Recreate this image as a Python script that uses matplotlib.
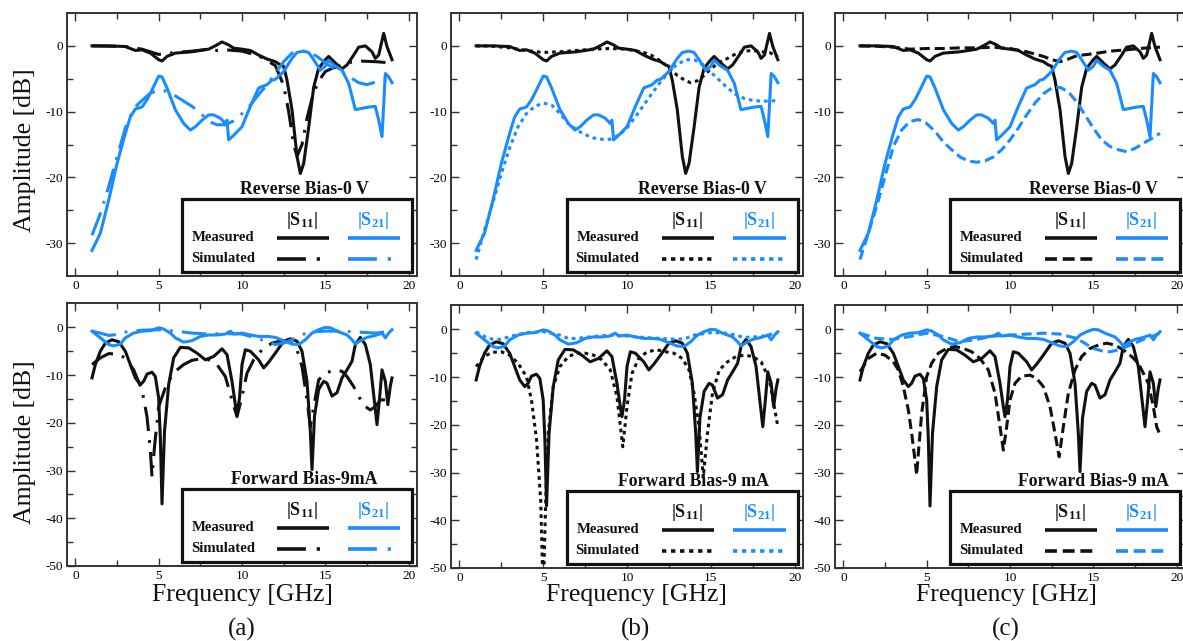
import matplotlib
matplotlib.use("Agg")
import matplotlib.pyplot as plt
from matplotlib.patches import Rectangle

plt.rcParams['font.family'] = 'Liberation Serif'
plt.rcParams['axes.unicode_minus'] = False
plt.rcParams['mathtext.fontset'] = 'custom'
plt.rcParams['mathtext.rm'] = 'Liberation Serif'
plt.rcParams['mathtext.bf'] = 'Liberation Serif:bold'

BLACK = '#111111'
BLUE = '#1a8cff'

# ---------------- reverse bias 0 V, measured (same in a, b, c)
rev_s11_f = [1, 2, 3, 3.6, 4, 4.5, 5, 5.2, 5.5, 6, 7, 8, 8.5, 8.8, 9.2, 9.5, 10, 10.5,
             11, 11.5, 12, 12.3, 12.5, 12.7, 13.0, 13.3, 13.5, 13.7, 14.0, 14.3, 14.6,
             15, 15.2, 15.6, 16, 16.3, 16.7, 17, 17.4, 17.8, 18, 18.2, 18.5, 18.7, 19]
rev_s11_meas = [0, 0, -0.1, -0.7, -0.6, -1.1, -2.1, -2.3, -1.6, -1.1, -0.9, -0.5, 0.15, 0.6,
                0.15, -0.35, -0.5, -0.7, -1.4, -2.0, -2.4, -2.9, -3.1, -5.2, -9.7, -16.8,
                -19.4, -17.9, -12.4, -6.3, -3.4, -2.1, -1.6, -2.6, -3.5, -2.9, -1.4, -0.2,
                0.0, -0.9, -1.9, -1.4, 1.9, -0.1, -2.1]

rev_s21_f = [1, 1.5, 2, 2.5, 3, 3.3, 3.6, 4, 4.3, 4.6, 5, 5.2, 5.5, 6, 6.5, 6.9, 7.2, 7.6,
             8, 8.3, 8.7, 9, 9.1, 9.2, 9.5, 10, 10.5, 11, 11.5, 11.8, 12, 12.5, 13, 13.3,
             13.7, 14, 14.3, 14.7, 15, 15.2, 15.6, 16, 16.4, 16.8, 17.2, 17.6, 18, 18.2,
             18.4, 18.6, 18.8, 19]
rev_s21_meas = [-31.1, -28.5, -23.5, -17.9, -13.3, -10.8, -9.6, -9.3, -8.2, -6.7, -4.6, -4.7,
                -6.4, -9.7, -11.8, -12.8, -12.3, -11.3, -10.5, -10.5, -11.0, -11.8, -11.3,
                -14.3, -13.6, -12.3, -9.2, -6.4, -5.9, -5.2, -5.1, -3.9, -1.9, -1.0, -0.8,
                -1.0, -2.1, -3.7, -3.1, -2.2, -3.1, -3.7, -5.7, -9.7, -9.5, -9.3, -9.2,
                -11.3, -13.8, -4.2, -4.7, -5.6]

# ---------------- reverse bias 0 V, simulated
rev_sim_s11_f_a = [1, 3, 4, 5, 6, 7, 8, 8.5, 9, 10, 11, 12, 12.5, 12.8, 13.1, 13.3, 13.6,
                   13.9, 14.3, 14.7, 15, 15.5, 16, 16.5, 17, 18, 19]
rev_sim_s11_a = [0, -0.1, -0.5, -1.3, -1.0, -0.8, -0.5, -0.7, -0.6, -0.8, -1.5, -3.0, -6.0,
                 -10.0, -15.0, -16.8, -15.0, -11.0, -7.0, -5.0, -3.9, -3.3, -3.0, -2.5,
                 -2.3, -2.4, -2.6]
rev_sim_s21_f_a = [1, 1.5, 2, 2.5, 3, 3.5, 4, 4.5, 5, 5.5, 6, 7, 7.5, 8, 8.5, 9, 9.5, 10,
                   10.5, 11, 11.5, 12, 12.5, 13, 13.5, 14, 14.5, 15, 15.5, 16, 16.5, 17,
                   17.5, 18, 18.5, 19]
rev_sim_s21_a = [-28.8, -25.5, -21.4, -16.9, -12.5, -9.5, -8.3, -7.2, -6.7, -6.9, -7.6, -9.2,
                 -10.2, -11.5, -12.0, -12.0, -11.4, -10.3, -9.0, -7.4, -5.9, -4.2, -2.4,
                 -1.1, -0.8, -0.9, -1.6, -2.6, -3.4, -3.9, -4.8, -5.6, -5.9, -5.5, -5.2, -5.3]

rev_sim_s11_f_b = [1, 2, 3, 4, 5, 6, 7, 8, 9, 10, 11, 11.5, 12, 12.5, 13, 13.5, 13.8, 14.2,
                   14.6, 15, 15.5, 16, 16.5, 17, 17.5, 18, 18.5, 19]
rev_sim_s11_b = [0, -0.05, -0.3, -0.7, -1.0, -0.9, -0.7, -0.5, -0.4, -0.5, -1.0, -1.5, -2.3,
                 -3.3, -4.5, -5.3, -5.6, -5.3, -4.5, -3.5, -2.5, -1.9, -1.2, -0.8, -0.7,
                 -0.9, -1.0, -1.7]
rev_sim_s21_f_b = [1, 1.5, 2, 2.5, 3, 3.5, 4, 4.5, 5, 5.5, 6, 6.5, 7, 7.5, 8, 8.5, 9, 9.5, 10,
                   10.5, 11, 11.5, 12, 12.5, 13, 13.5, 14, 14.5, 15, 15.5, 16, 16.5, 17,
                   17.5, 18, 18.5, 19]
rev_sim_s21_b = [-32.5, -28.0, -23.8, -19.5, -15.5, -12.3, -10.3, -9.2, -8.7, -9.0, -10.3,
                 -11.8, -12.8, -13.5, -14.0, -14.2, -14.2, -13.6, -12.5, -10.8, -9.0, -7.2,
                 -5.5, -3.9, -2.8, -2.1, -2.1, -2.8, -4.0, -5.2, -6.4, -7.4, -8.0, -8.3,
                 -8.4, -8.4, -8.3]

rev_sim_s11_f_c = [1, 2, 3, 4, 5, 6, 7, 8, 9, 10, 11, 12, 12.5, 13, 13.5, 14, 15, 16, 17,
                   18, 19]
rev_sim_s11_c = [0, -0.05, -0.2, -0.5, -0.4, -0.4, -0.3, -0.3, -0.2, -0.4, -0.9, -1.6, -2.1,
                 -2.4, -2.0, -1.5, -1.2, -0.8, -0.6, -0.35, -0.2]
rev_sim_s21_f_c = [1, 1.5, 2, 2.5, 3, 3.5, 4, 4.5, 5, 5.5, 6, 6.5, 7, 7.5, 8, 8.5, 9, 9.5, 10,
                   10.5, 11, 11.5, 12, 12.5, 13, 13.5, 14, 14.5, 15, 15.5, 16, 16.5, 17,
                   17.5, 18, 18.5, 19]
rev_sim_s21_c = [-32.5, -28.5, -24.4, -19.9, -15.3, -12.8, -11.5, -11.2, -11.8, -13.0, -14.6,
                 -15.8, -16.9, -17.5, -17.7, -17.5, -16.9, -15.8, -14.3, -12.5, -10.5, -8.7,
                 -7.3, -6.4, -6.3, -7.0, -8.5, -10.5, -12.5, -14.3, -15.3, -15.8, -16.1,
                 -15.6, -14.8, -14.1, -13.3]

# ---------------- forward bias 9 mA, measured (same in a, b, c)
fwd_s11_f = [1, 1.2, 1.5, 1.8, 2.2, 2.6, 3, 3.3, 3.6, 3.9, 4.1, 4.3, 4.6, 4.8, 5.0, 5.1,
             5.2, 5.35, 5.6, 5.9, 6.3, 6.8, 7.3, 7.8, 8.3, 8.8, 9.1, 9.4, 9.6, 9.7, 9.85,
             10, 10.2, 10.5, 11, 11.3, 11.6, 12, 12.5, 12.9, 13.3, 13.6, 13.9, 14.1, 14.2,
             14.35, 14.6, 14.9, 15.1, 15.4, 15.7, 16, 16.3, 16.6, 16.8, 17.1, 17.4, 17.7,
             17.9, 18.1, 18.25, 18.4, 18.6, 18.75, 18.9, 19]
fwd_s11_meas = [-10.6, -7.8, -5.0, -3.3, -2.6, -3.0, -5.0, -7.8, -10.6, -12.0, -11.3, -9.8,
                -9.4, -10.3, -14.8, -23.0, -37.0, -21.8, -12.0, -6.4, -4.2, -4.3, -5.4,
                -6.8, -6.1, -4.5, -5.7, -11.3, -16.2, -18.3, -14.8, -7.8, -4.7, -5.0, -6.8,
                -8.5, -7.3, -5.4, -2.9, -2.4, -2.9, -5.0, -11.3, -21.8, -29.8, -18.6, -13.0,
                -11.3, -11.7, -14.4, -13.7, -10.6, -8.9, -7.1, -3.6, -2.1, -3.6, -7.8, -14.1,
                -20.4, -15.0, -8.9, -11.3, -16.2, -12.3, -10.6]

fwd_s21_f = [1, 1.5, 2, 2.3, 2.7, 3, 3.5, 4, 4.5, 5, 5.3, 5.7, 6, 6.5, 7, 7.5, 8, 8.5, 9,
             9.3, 9.5, 10, 10.5, 11, 11.5, 12, 12.5, 13, 13.4, 13.8, 14.2, 14.6, 15, 15.3,
             15.7, 16, 16.3, 16.6, 16.8, 17.1, 17.5, 18, 18.4, 18.6, 18.8, 19]
fwd_s21_meas = [-0.8, -2.2, -3.6, -3.9, -3.5, -2.2, -1.2, -0.8, -0.7, -0.1, -0.35, -1.2,
                -2.2, -3.1, -2.8, -1.9, -1.6, -1.6, -1.4, -0.8, -1.4, -1.2, -1.6, -1.9,
                -1.9, -2.1, -2.8, -3.5, -3.6, -2.6, -1.2, -0.5, 0.0, -0.1, -0.8, -1.2,
                -1.6, -2.6, -3.5, -2.8, -2.1, -1.7, -1.2, -2.2, -1.2, -0.5]

# ---------------- forward bias 9 mA, simulated
fwd_sim_s11_f_a = [1, 1.5, 2, 2.5, 3, 3.5, 4, 4.3, 4.5, 4.6, 4.75, 5, 5.5, 6, 6.5, 7, 7.5, 8,
                   8.5, 9, 9.4, 9.7, 10, 10.3, 10.7, 11.2, 11.8, 12.4, 12.9, 13.3, 13.6,
                   13.9, 14.1, 14.3, 14.6, 15, 15.5, 16, 16.3, 16.7, 17, 17.4, 17.7, 18,
                   18.3, 18.7, 19]
fwd_sim_s11_a = [-7.8, -6.4, -5.5, -5.6, -6.4, -8.9, -13.1, -18.7, -25.7, -31.3, -25.0,
                 -16.6, -11.7, -9.2, -7.8, -6.9, -6.6, -6.8, -7.8, -10.3, -15.2, -18.7,
                 -14.5, -9.6, -6.8, -4.7, -3.3, -2.8, -3.1, -4.7, -8.2, -15.2, -20.8, -16.6,
                 -11.0, -9.6, -9.0, -9.2, -10.3, -12.4, -14.5, -16.6, -17.3, -16.6, -15.2,
                 -15.2, -15.5]
fwd_sim_s21_f_a = [1, 1.5, 2, 2.5, 3, 4, 5, 6, 7, 8, 9, 10, 11, 12, 12.5, 13, 13.5, 14, 15,
                   16, 17, 18, 19]
fwd_sim_s21_a = [-0.8, -1.2, -1.7, -1.5, -1.0, -0.6, -0.5, -0.8, -1.2, -1.4, -1.3, -1.4,
                 -2.4, -3.6, -3.3, -2.6, -1.7, -1.0, -0.8, -0.8, -1.0, -1.2, -0.8]

fwd_sim_s11_f_b = [1, 1.5, 2, 2.5, 3, 3.5, 4, 4.3, 4.6, 4.85, 5.0, 5.15, 5.3, 5.6, 6, 6.5,
                   7, 7.5, 8, 8.5, 9, 9.4, 9.75, 10, 10.3, 10.7, 11.2, 11.8, 12.3, 12.8,
                   13.3, 13.7, 14, 14.3, 14.55, 14.8, 15.1, 15.5, 16, 16.5, 17, 17.5, 18,
                   18.5, 19]
fwd_sim_s11_b = [-7.8, -5.6, -4.8, -4.7, -5.4, -7.1, -9.9, -14.8, -23.0, -35.7, -56.0,
                 -36.0, -21.8, -12.0, -7.8, -5.7, -5.0, -5.0, -5.4, -6.4, -8.5, -14.1,
                 -24.6, -16.2, -9.2, -6.1, -4.7, -4.3, -4.7, -5.0, -6.1, -8.5, -13.4,
                 -20.4, -31.0, -21.8, -13.4, -8.5, -6.8, -5.7, -5.4, -5.7, -6.8, -10.6,
                 -20.4]
fwd_sim_s21_f_b = [1, 1.5, 2, 2.5, 3, 4, 5, 6, 6.5, 7, 8, 9, 10, 11, 12, 13, 13.5, 14, 15,
                   16, 17, 18, 19]
fwd_sim_s21_b = [-0.5, -1.5, -2.1, -2.1, -1.5, -0.7, -0.5, -1.2, -1.9, -1.9, -1.5, -1.2,
                 -1.4, -1.7, -1.9, -2.1, -1.9, -1.2, -0.7, -0.8, -1.7, -1.5, -0.7]

fwd_sim_s11_f_c = [1, 1.5, 2, 2.5, 3, 3.3, 3.6, 3.9, 4.1, 4.3, 4.4, 4.5, 4.7, 5, 5.3, 5.7,
                   6.2, 6.7, 7.2, 7.7, 8.2, 8.7, 9.1, 9.4, 9.6, 9.8, 10, 10.3, 10.7, 11.2,
                   11.6, 12, 12.4, 12.7, 12.95, 13.2, 13.5, 13.9, 14.3, 14.8, 15.3, 15.8,
                   16.3, 16.8, 17.3, 17.7, 18, 18.3, 18.6, 18.8, 19]
fwd_sim_s11_c = [-8.9, -6.1, -5.0, -5.4, -6.8, -8.5, -12.0, -16.9, -21.8, -27.4, -30.5,
                 -26.0, -17.6, -9.9, -7.1, -5.0, -4.0, -3.6, -4.0, -4.7, -6.1, -8.5, -13.4,
                 -20.4, -25.3, -20.4, -14.8, -11.3, -9.8, -9.6, -10.3, -12.0, -16.2, -21.8,
                 -26.7, -20.4, -13.4, -8.5, -5.7, -4.0, -3.3, -2.9, -3.3, -4.3, -5.7, -7.1,
                 -9.2, -11.3, -16.2, -20.4, -22.1]
fwd_sim_s21_f_c = [1, 2, 3, 4, 5, 6, 7, 8, 9, 10, 11, 12, 13, 14, 15, 15.5, 16, 16.5, 17,
                   17.5, 18, 18.5, 19]
fwd_sim_s21_c = [-0.8, -1.9, -2.1, -1.5, -0.8, -1.5, -2.6, -2.1, -1.4, -1.2, -1.0, -0.8,
                 -1.0, -1.9, -4.0, -4.5, -4.7, -4.3, -3.6, -2.9, -2.1, -1.5, -0.8]

col_labels = ['(a)', '(b)', '(c)']
rev_titles = ['Reverse Bias-0 V', 'Reverse Bias-0 V', 'Reverse Bias-0 V']
fwd_titles = ['Forward Bias-9mA', 'Forward Bias-9 mA', 'Forward Bias-9 mA']

# simulated line styles per column: dash-dot, dotted, dashed
sim_styles = [(0, (8, 3, 0.9, 3)), (0, (1.2, 1.3)), (0, (3.3, 1.6))]

W, H = 1183, 641
fig = plt.figure(figsize=(W / 100, H / 100), dpi=100)


def px_axes(x0, x1, ytop, ybot):
    return fig.add_axes([x0 / W, 1 - ybot / H, (x1 - x0) / W, (ybot - ytop) / H])


def style_axes(ax, ylim, yticks):
    ax.set_xlim(-0.5, 20.5)
    ax.set_ylim(*ylim)
    ax.set_xticks([0, 5, 10, 15, 20])
    ax.set_xticks([2.5, 7.5, 12.5, 17.5], minor=True)
    ax.set_yticks(yticks)
    ax.set_yticks([v + 5 for v in yticks[:-1]], minor=True)
    ax.tick_params(which='both', direction='in', top=True, right=True,
                   labelsize=9.5, width=1.0, color='#333333', pad=3)
    ax.tick_params(which='major', length=6)
    ax.tick_params(which='minor', length=4)
    for sp in ax.spines.values():
        sp.set_linewidth(1.4)
        sp.set_color('#333333')


def draw_key(ax, title, title_x, ls):
    tr = ax.transAxes
    ax.add_patch(Rectangle((0.329, 0.016), 0.656, 0.276, transform=tr, fc='white',
                           ec=BLACK, lw=2.3, zorder=5))
    ax.text(title_x, 0.327, title, transform=tr, ha='center', va='center',
            fontsize=12.8, fontweight='bold', color=BLACK, zorder=6)
    ax.text(0.670, 0.212, r'$\mathbf{|S_{11}|}$', transform=tr, ha='center',
            va='center', fontsize=13, color=BLACK, zorder=6)
    ax.text(0.874, 0.212, r'$\mathbf{|S_{21}|}$', transform=tr, ha='center',
            va='center', fontsize=13, color=BLUE, zorder=6)
    ax.text(0.445, 0.145, 'Measured', transform=tr, ha='center', va='center',
            fontsize=10.6, fontweight='bold', color=BLACK, zorder=6)
    ax.text(0.445, 0.066, 'Simulated', transform=tr, ha='center', va='center',
            fontsize=10.6, fontweight='bold', color=BLACK, zorder=6)
    for (x0, x1), c in [((0.600, 0.748), BLACK), ((0.802, 0.951), BLUE)]:
        ax.plot([x0, x1], [0.145, 0.145], transform=tr, color=c, lw=2.6, zorder=6,
                solid_capstyle='butt')
        ax.plot([x0, x1], [0.066, 0.066], transform=tr, color=c, lw=2.6, ls=ls,
                zorder=6, dash_capstyle='butt')


cols = [(67, 417), (451, 803), (835, 1185)]
rev_sims = [(rev_sim_s11_f_a, rev_sim_s11_a, rev_sim_s21_f_a, rev_sim_s21_a),
            (rev_sim_s11_f_b, rev_sim_s11_b, rev_sim_s21_f_b, rev_sim_s21_b),
            (rev_sim_s11_f_c, rev_sim_s11_c, rev_sim_s21_f_c, rev_sim_s21_c)]
fwd_sims = [(fwd_sim_s11_f_a, fwd_sim_s11_a, fwd_sim_s21_f_a, fwd_sim_s21_a),
            (fwd_sim_s11_f_b, fwd_sim_s11_b, fwd_sim_s21_f_b, fwd_sim_s21_b),
            (fwd_sim_s11_f_c, fwd_sim_s11_c, fwd_sim_s21_f_c, fwd_sim_s21_c)]
rev_title_x = [0.677, 0.713, 0.739]
fwd_title_x = [0.677, 0.690, 0.740]
bottom_rows = [(303, 566), (305, 568), (305, 568)]
xlabel_x = [242, 636, 1006]

lw = 2.2
for i, (x0, x1) in enumerate(cols):
    # top row: reverse bias
    ax = px_axes(x0, x1, 13, 276)
    style_axes(ax, (-35, 5), [-30, -20, -10, 0])
    sf11, s11, sf21, s21 = rev_sims[i]
    ax.plot(rev_s11_f, rev_s11_meas, color=BLACK, lw=lw)
    ax.plot(sf11, s11, color=BLACK, lw=lw, ls=sim_styles[i])
    ax.plot(rev_s21_f, rev_s21_meas, color=BLUE, lw=lw)
    ax.plot(sf21, s21, color=BLUE, lw=lw, ls=sim_styles[i])
    draw_key(ax, rev_titles[i], rev_title_x[i], sim_styles[i])

    # bottom row: forward bias
    yt, yb = bottom_rows[i]
    ax = px_axes(x0, x1, yt, yb)
    style_axes(ax, (-50, 5.1), [-50, -40, -30, -20, -10, 0])
    sf11, s11, sf21, s21 = fwd_sims[i]
    ax.plot(fwd_s11_f, fwd_s11_meas, color=BLACK, lw=lw)
    ax.plot(sf11, s11, color=BLACK, lw=lw, ls=sim_styles[i])
    ax.plot(fwd_s21_f, fwd_s21_meas, color=BLUE, lw=lw)
    ax.plot(sf21, s21, color=BLUE, lw=lw, ls=sim_styles[i])
    draw_key(ax, fwd_titles[i], fwd_title_x[i], sim_styles[i])

    fig.text(xlabel_x[i] / W, 1 - 595 / H, 'Frequency [GHz]', ha='center', va='center',
             fontsize=18.5, color=BLACK)
    fig.text(xlabel_x[i] / W, 1 - 629 / H, col_labels[i], ha='center', va='center',
             fontsize=18, color=BLACK)

fig.text(25 / W, 1 - 150 / H, 'Amplitude [dB]', rotation=90, ha='center', va='center',
         fontsize=18.5, color=BLACK)
fig.text(25 / W, 1 - 442 / H, 'Amplitude [dB]', rotation=90, ha='center', va='center',
         fontsize=18.5, color=BLACK)

fig.savefig('out.png', dpi=100)
